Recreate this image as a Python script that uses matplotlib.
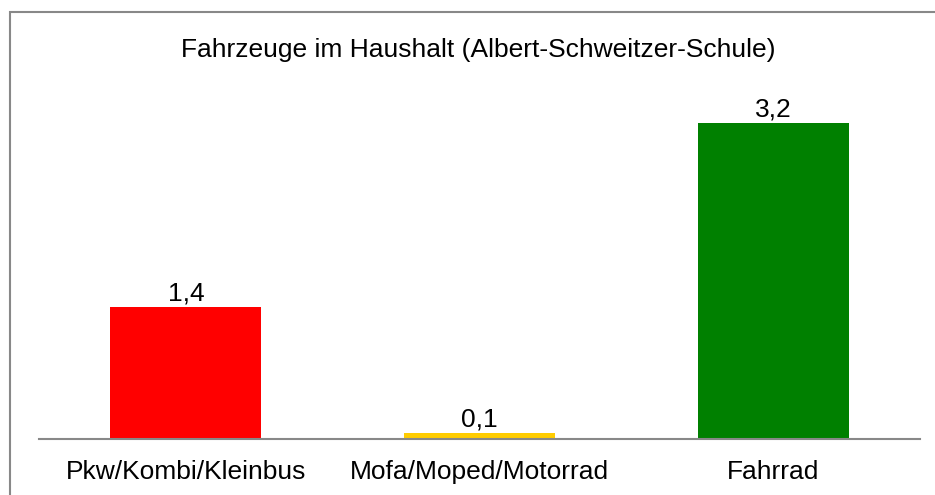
import matplotlib
matplotlib.use('Agg')
import matplotlib.pyplot as plt
from matplotlib.patches import Rectangle

###  values (labels show one decimal)
categories = ['Pkw/Kombi/Kleinbus', 'Mofa/Moped/Motorrad', 'Fahrrad']
values = [1.35, 0.06, 3.24]
colors = ['#FF0000', '#FFCC00', '#008000']
title = 'Fahrzeuge im Haushalt (Albert-Schweitzer-Schule)'

plt.rcParams['font.family'] = ['Liberation Sans', 'DejaVu Sans']

fig = plt.figure(figsize=(9.35, 4.95), dpi=100)
ax = fig.add_axes([0.0417, 0.1131, 0.9422, 0.685])

x = list(range(len(categories)))
bars = ax.bar(x, values, width=0.515, color=colors)

  #  data labels with a decimal comma
for b, v in zip(bars, values):
    ax.annotate(('%.1f' % v).replace('.', ','),
                (b.get_x() + b.get_width()/2, v),
                xytext=(0, 1), textcoords='offset points',
                ha='center', va='bottom', fontsize=19)

ax.set_xlim(-0.5, 2.5)
ax.set_ylim(0, 3.477)
ax.set_xticks(x)
ax.set_xticklabels(categories, fontsize=19)
ax.tick_params(axis='x', length=0, pad=15)
ax.set_yticks([])
for s in ['top', 'right', 'left']:
    ax.spines[s].set_visible(False)
ax.spines['bottom'].set_color('#888888')
ax.spines['bottom'].set_linewidth(1.5)

fig.text(0.512, 0.899, title, ha='center', va='center', fontsize=19)

###  chart area border (cut off on right and bottom)
fig.add_artist(Rectangle((0.0107, -0.1), 1.2, 1.0758, transform=fig.transFigure,
                         fill=False, edgecolor='#888888', linewidth=1.5))

fig.savefig('out.png', dpi=100)
